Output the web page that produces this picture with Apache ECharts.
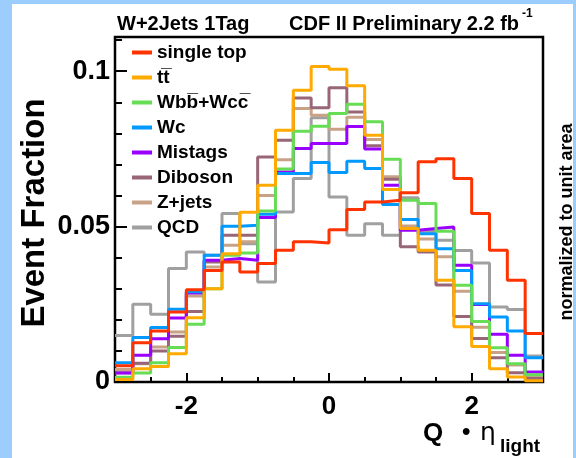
<!DOCTYPE html>
<html>
<head>
<meta charset="utf-8">
<script src="https://cdn.jsdelivr.net/npm/echarts@6/dist/echarts.min.js"></script>
<style>
  html, body { margin: 0; padding: 0; background: #9ccdfd; }
  #frame { position: absolute; left: 12px; top: 4px; width: 561px; height: 454px; background: #ffffff; }
  #chart { position: absolute; left: 0; top: 0; width: 576px; height: 458px; }
</style>
</head>
<body>
<div id="frame"></div>
<div id="chart"></div>
<script>
// Bin edges of Q*eta_light (24 bins)
const binEdges = [-3, -2.75, -2.5, -2.25, -2, -1.75, -1.5, -1.25, -1, -0.75, -0.5, -0.25,
  0, 0.25, 0.5, 0.75, 1, 1.25, 1.5, 1.75, 2, 2.25, 2.5, 2.75, 3];

// Event fractions per bin, each sample normalized to unit area
const singleTop = [0.0052, 0.0126, 0.0164, 0.0225, 0.0297, 0.0359, 0.0386, 0.0354, 0.0381, 0.0424, 0.0451, 0.0447,
  0.0490, 0.0555, 0.0579, 0.0585, 0.0609, 0.0709, 0.0718, 0.0655, 0.0542, 0.0424, 0.0327, 0.0156];
const ttbar = [0.0008, 0.0043, 0.0050, 0.0091, 0.0207, 0.0300, 0.0413, 0.0546, 0.0633, 0.0810, 0.0939, 0.1015,
  0.1006, 0.0953, 0.0794, 0.0619, 0.0494, 0.0424, 0.0327, 0.0178, 0.0114, 0.0043, 0.0016, 0.0004];
const wbbWcc = [0.0015, 0.0029, 0.0062, 0.0111, 0.0186, 0.0300, 0.0408, 0.0415, 0.0550, 0.0685, 0.0807, 0.0823,
  0.0864, 0.0894, 0.0837, 0.0717, 0.0585, 0.0574, 0.0485, 0.0311, 0.0195, 0.0110, 0.0059, 0.0023];
const wc = [0.0062, 0.0143, 0.0175, 0.0234, 0.0290, 0.0408, 0.0501, 0.0504, 0.0540, 0.0671, 0.0671, 0.0706,
  0.0674, 0.0710, 0.0687, 0.0571, 0.0523, 0.0477, 0.0429, 0.0359, 0.0252, 0.0209, 0.0164, 0.0078];
const mistags = [0.0029, 0.0086, 0.0139, 0.0206, 0.0286, 0.0392, 0.0397, 0.0392, 0.0529, 0.0676, 0.0751, 0.0767,
  0.0767, 0.0822, 0.0750, 0.0633, 0.0488, 0.0494, 0.0499, 0.0376, 0.0249, 0.0154, 0.0086, 0.0032];
const diboson = [0.0030, 0.0060, 0.0100, 0.0147, 0.0227, 0.0386, 0.0472, 0.0472, 0.0724, 0.0778, 0.0914, 0.0882,
  0.0947, 0.0869, 0.0760, 0.0652, 0.0435, 0.0418, 0.0312, 0.0211, 0.0140, 0.0078, 0.0030, 0.0011];
const zjets = [0.0040, 0.0059, 0.0113, 0.0161, 0.0277, 0.0370, 0.0440, 0.0451, 0.0600, 0.0715, 0.0880, 0.0858,
  0.0813, 0.0852, 0.0780, 0.0660, 0.0502, 0.0460, 0.0403, 0.0292, 0.0176, 0.0095, 0.0055, 0.0020];
const qcd = [0.0150, 0.0250, 0.0218, 0.0365, 0.0418, 0.0408, 0.0542, 0.0445, 0.0322, 0.0547, 0.0655, 0.0850,
  0.0595, 0.0472, 0.0509, 0.0472, 0.0593, 0.0485, 0.0456, 0.0423, 0.0383, 0.0241, 0.0233, 0.0084];

const sampleNames = ['single top', 'tt\u0305', 'Wbb\u0305+Wcc\u0305', 'Wc', 'Mistags', 'Diboson', 'Z+jets', 'QCD'];
const sampleValues = [singleTop, ttbar, wbbWcc, wc, mistags, diboson, zjets, qcd];
const sampleColors = ['#ff3300', '#ffaa00', '#66dd55', '#0099ff', '#9900ff', '#996677', '#c8a286', '#a0a0a0'];

const yMajor = [0, 0.05, 0.1];
const yMinor = [0.01, 0.02, 0.03, 0.04, 0.06, 0.07, 0.08, 0.09, 0.11];
const xMajor = [-2, 0, 2];
const xMinor = [-2.5, -1.5, -1, -0.5, 0.5, 1, 1.5, 2.5];

// histogram outline: one point per left bin edge plus the closing right edge
function histData(vals) {
  const pts = vals.map((v, i) => [binEdges[i], v]);
  pts.push([binEdges[binEdges.length - 1], vals[vals.length - 1]]);
  return pts;
}

const FONT = 'Liberation Sans';
const chart = echarts.init(document.getElementById('chart'), null, { renderer: 'canvas' });

// draw QCD first so that single top ends up on top
const series = [];
for (let k = sampleNames.length - 1; k >= 0; k--) {
  series.push({
    name: sampleNames[k],
    type: 'line',
    step: 'end',
    data: histData(sampleValues[k]),
    showSymbol: false,
    symbol: 'none',
    lineStyle: { color: sampleColors[k], width: 3 },
    itemStyle: { color: sampleColors[k] },
    silent: true,
    animation: false,
    z: 2 + (sampleNames.length - k)
  });
}

const option = {
  animation: false,
  backgroundColor: 'transparent',
  grid: { show: true, left: 115, top: 37, right: 33, bottom: 76, borderColor: '#000', borderWidth: 2.5, backgroundColor: 'transparent' },
  legend: {
    orient: 'vertical',
    left: 132,
    top: 42,
    padding: 0,
    icon: 'rect',
    itemWidth: 20,
    itemHeight: 4,
    itemGap: 4,
    data: sampleNames,
    textStyle: { fontFamily: FONT, fontWeight: 'bold', fontSize: 19, color: '#000', lineHeight: 21 },
    selectedMode: false
  },
  xAxis: [
    {
      type: 'value', min: -3, max: 3, position: 'bottom',
      axisLine: { show: true, onZero: false, lineStyle: { color: '#000', width: 2 } },
      axisTick: { show: true, inside: true, length: 9, customValues: xMajor, lineStyle: { color: '#000', width: 2 } },
      axisLabel: { show: true, customValues: xMajor, margin: 12, fontFamily: FONT, fontWeight: 'bold', fontSize: 26, color: '#000',
        formatter: v => String(v) },
      splitLine: { show: false }
    },
    {
      type: 'value', min: -3, max: 3, position: 'bottom',
      axisLine: { show: false, onZero: false },
      axisTick: { show: true, inside: true, length: 5, customValues: xMinor, lineStyle: { color: '#000', width: 2 } },
      axisLabel: { show: false },
      splitLine: { show: false }
    }
  ],
  yAxis: [
    {
      type: 'value', min: 0, max: 0.111, position: 'left',
      axisLine: { show: true, onZero: false, lineStyle: { color: '#000', width: 2 } },
      axisTick: { show: true, inside: true, length: 12, customValues: yMajor, lineStyle: { color: '#000', width: 2 } },
      axisLabel: { show: true, customValues: yMajor, margin: 5, fontFamily: FONT, fontWeight: 'bold', fontSize: 27, color: '#000',
        formatter: v => (v === 0 ? '0' : String(v)) },
      splitLine: { show: false }
    },
    {
      type: 'value', min: 0, max: 0.111, position: 'left',
      axisLine: { show: false, onZero: false },
      axisTick: { show: true, inside: true, length: 7, customValues: yMinor, lineStyle: { color: '#000', width: 2 } },
      axisLabel: { show: false },
      splitLine: { show: false }
    }
  ],
  series: series,
  graphic: [
    { type: 'text', left: 117, top: 14, style: { text: 'W+2Jets 1Tag', fontFamily: FONT, fontWeight: 'bold', fontSize: 20, fill: '#000' } },
    { type: 'text', left: 289, top: 14, style: { text: 'CDF II Preliminary 2.2 fb', fontFamily: FONT, fontWeight: 'bold', fontSize: 20, fill: '#000' } },
    { type: 'text', left: 522, top: 8, style: { text: '-1', fontFamily: FONT, fontWeight: 'bold', fontSize: 12, fill: '#000' } },
    { type: 'text', x: 35, y: 213, rotation: Math.PI / 2,
      style: { text: 'Event Fraction', fontFamily: FONT, fontWeight: 'bold', fontSize: 33, fill: '#000', align: 'center', verticalAlign: 'middle' } },
    { type: 'text', x: 567, y: 222, rotation: Math.PI / 2,
      style: { text: 'normalized to unit area', fontFamily: FONT, fontWeight: 'bold', fontSize: 18, fill: '#000', align: 'center', verticalAlign: 'middle' } },
    { type: 'text', left: 423, top: 421, style: { text: 'Q', fontFamily: FONT, fontWeight: 'bold', fontSize: 26, fill: '#000' } },
    { type: 'text', left: 462, top: 420, style: { text: '\u2022', fontFamily: FONT, fontWeight: 'bold', fontSize: 24, fill: '#000' } },
    { type: 'text', left: 480, top: 421, style: { text: '\u03b7', fontFamily: 'DejaVu Sans', fontSize: 25, fill: '#000' } },
    { type: 'text', left: 500, top: 437, style: { text: 'light', fontFamily: FONT, fontWeight: 'bold', fontSize: 19, fill: '#000' } }
  ]
};

chart.setOption(option);
</script>
</body>
</html>
